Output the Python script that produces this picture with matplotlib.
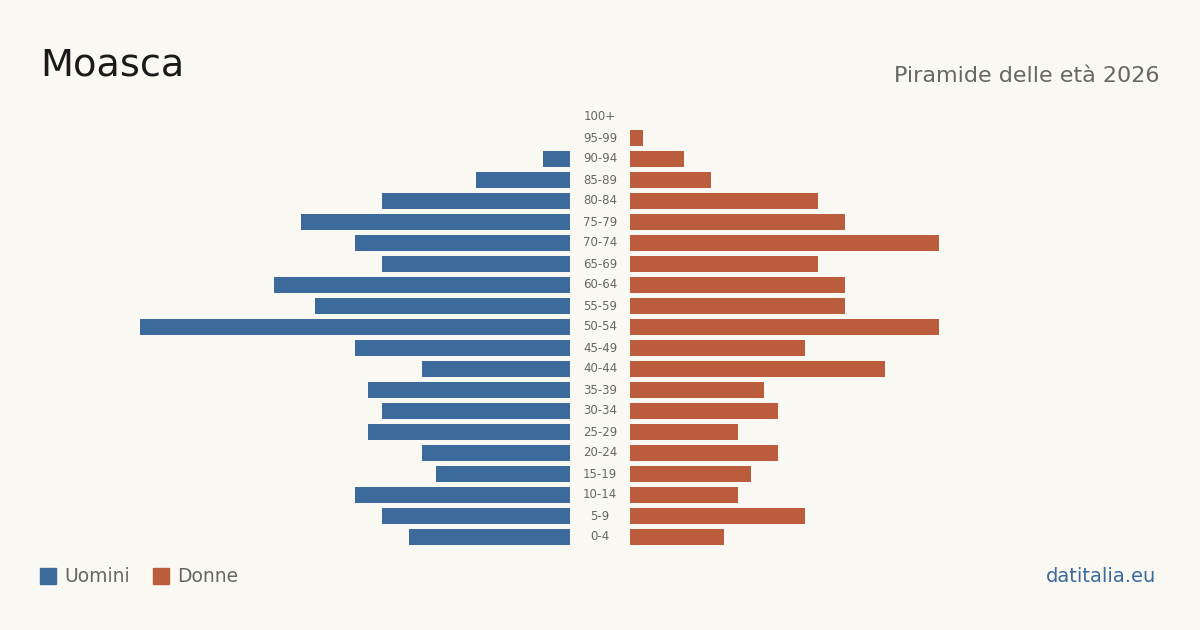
import matplotlib.pyplot as plt
import numpy as np
from matplotlib.transforms import blended_transform_factory
from matplotlib.patches import Rectangle

# dati
fasce = ['0-4', '5-9', '10-14', '15-19', '20-24', '25-29', '30-34', '35-39',
         '40-44', '45-49', '50-54', '55-59', '60-64', '65-69', '70-74',
         '75-79', '80-84', '85-89', '90-94', '95-99', '100+']
uomini = [12, 14, 16, 10, 11, 15, 14, 15, 11, 16, 32, 19, 22, 14, 16, 20, 14, 7, 2, 0, 0]
donne = [7, 13, 8, 9, 11, 8, 11, 10, 19, 13, 23, 16, 16, 14, 23, 16, 14, 6, 4, 1, 0]

bg = '#f9f8f3'
blu = '#3c6a9b'
rosso = '#bb5d3c'
xmax = 32

fig = plt.figure(figsize=(12, 6.3), dpi=100, facecolor=bg)
y = np.arange(len(fasce))

bottom = 82.5 / 630
height = 441 / 630
ax_l = fig.add_axes([140 / 1200, bottom, 430 / 1200, height])
ax_r = fig.add_axes([630 / 1200, bottom, 430 / 1200, height])

ax_l.barh(y, uomini, height=0.8, color=blu)
ax_r.barh(y, donne, height=0.8, color=rosso)
ax_l.set_xlim(xmax, 0)
ax_r.set_xlim(0, xmax)
for ax in (ax_l, ax_r):
    ax.set_ylim(-0.5, len(fasce) - 0.5)
    ax.axis('off')
    ax.set_facecolor('none')

tr = blended_transform_factory(fig.transFigure, ax_l.transData)
for i, f in enumerate(fasce):
    ax_l.text(600 / 1200, i, f, transform=tr, ha='center', va='center',
              fontsize=8.5, color='#666666', clip_on=False)

fig.text(40 / 1200, 1 - 66 / 630, 'Moasca', fontsize=27.5, color='#1a1a1a',
         va='center', ha='left')
fig.text(1160 / 1200, 1 - 76 / 630, 'Piramide delle età 2026', fontsize=16,
         color='#666666', va='center', ha='right')

# legenda
fig.patches.append(Rectangle((40 / 1200, 1 - 584 / 630), 16 / 1200, 16 / 630,
                             transform=fig.transFigure, color=blu))
fig.text(64 / 1200, 1 - 576 / 630, 'Uomini', fontsize=13.5, color='#666666',
         va='center', ha='left')
fig.patches.append(Rectangle((153 / 1200, 1 - 584 / 630), 16 / 1200, 16 / 630,
                             transform=fig.transFigure, color=rosso))
fig.text(177 / 1200, 1 - 576 / 630, 'Donne', fontsize=13.5, color='#666666',
         va='center', ha='left')

fig.text(1156 / 1200, 1 - 576 / 630, 'datitalia.eu', fontsize=14, color=blu,
         va='center', ha='right')

fig.savefig('out.png', dpi=100, facecolor=bg)
